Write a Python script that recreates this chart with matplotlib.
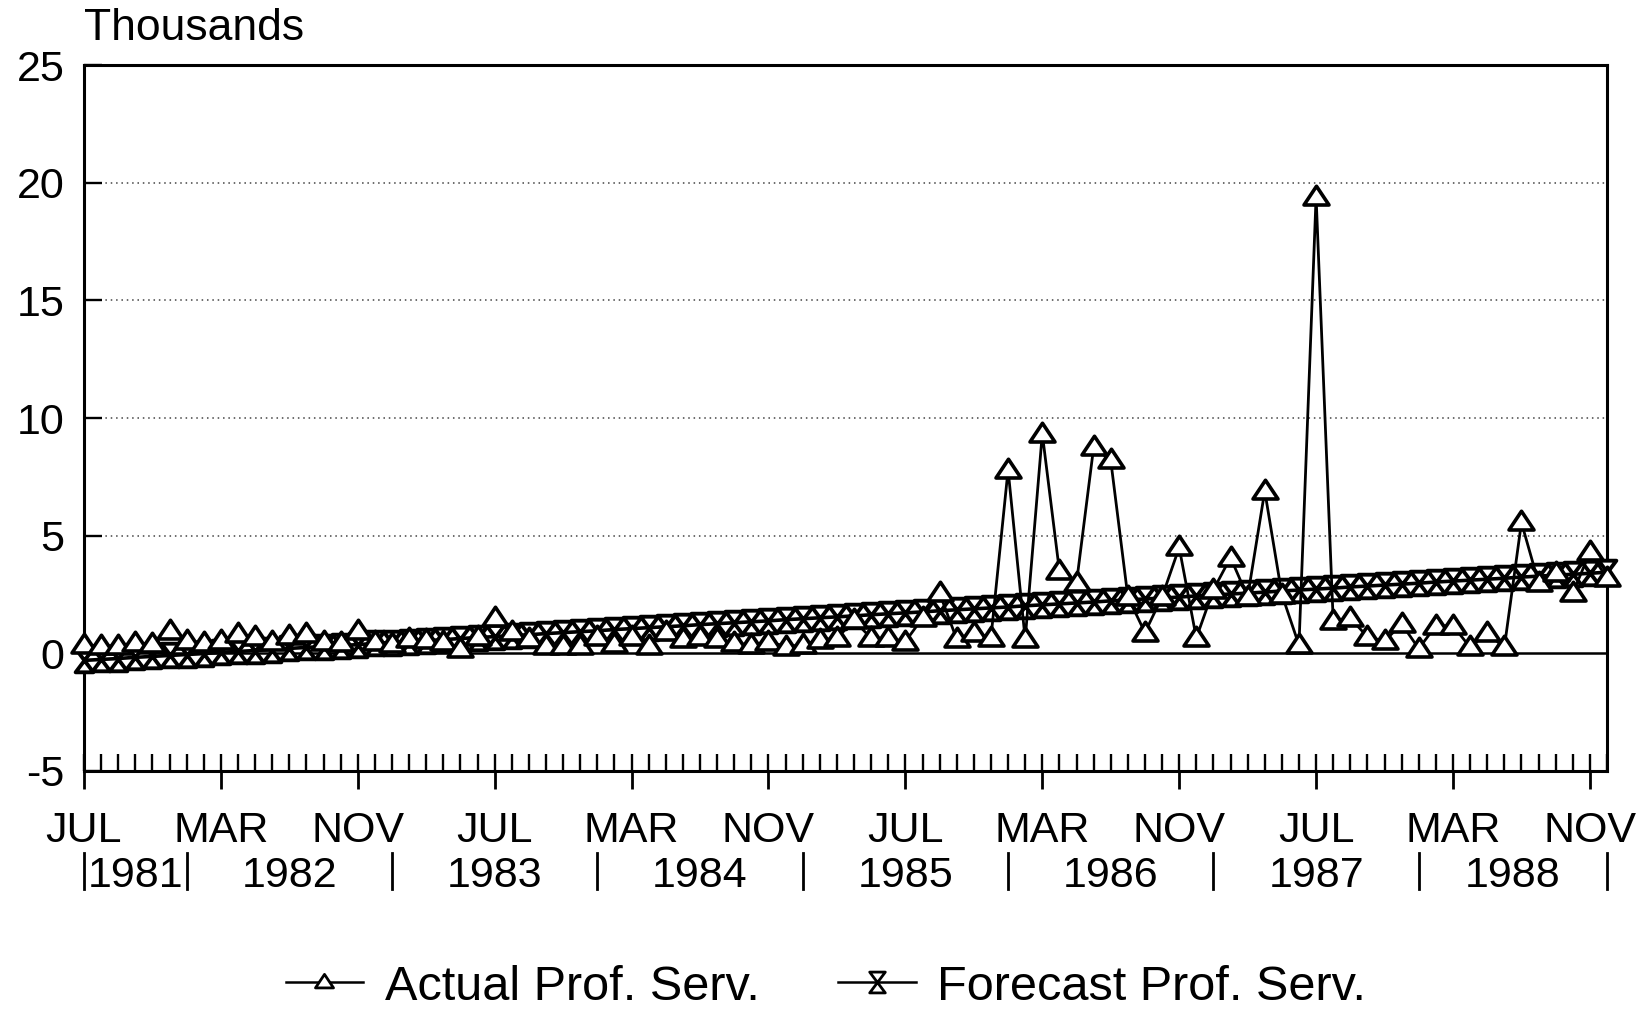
import matplotlib.pyplot as plt
from matplotlib.path import Path
from matplotlib.lines import Line2D
import numpy as np

plt.rcParams['font.family'] = ['Liberation Sans', 'DejaVu Sans']
plt.rcParams['axes.unicode_minus'] = False

# monthly series, Jul 1981 .. Dec 1988 (thousands)
actual = [0.35, 0.32, 0.32, 0.45, 0.39, 0.96, 0.53, 0.46, 0.53, 0.82,
          0.70, 0.50, 0.72, 0.82, 0.50, 0.45, 0.96, 0.50, 0.40, 0.60,
          0.55, 0.50, 0.20, 0.70, 1.52, 0.90, 0.60, 0.30, 0.30, 0.30,
          0.70, 0.40, 0.70, 0.30, 0.90, 0.60, 0.70, 0.60, 0.43, 0.36,
          0.50, 0.29, 0.36, 0.57, 0.64, 1.40, 0.64, 0.64, 0.50, 1.50,
          2.55, 0.60, 0.88, 0.67, 7.80, 0.60, 9.33, 3.50, 3.00, 8.75,
          8.20, 2.40, 0.88, 2.40, 4.50, 0.65, 2.70, 4.07, 2.40, 6.90,
          2.50, 0.35, 19.40, 1.38, 1.50, 0.70, 0.52, 1.25, 0.20, 1.17,
          1.17, 0.26, 0.86, 0.25, 5.56, 3.00, 3.40, 2.55, 4.30, 3.20]
forecast = [-0.30, -0.26, -0.22, -0.17, -0.13, -0.09, -0.05, -0.01, 0.04, 0.08,
            0.12, 0.16, 0.21, 0.25, 0.29, 0.33, 0.37, 0.42, 0.46, 0.50,
            0.54, 0.58, 0.63, 0.67, 0.71, 0.75, 0.79, 0.84, 0.88, 0.92,
            0.96, 1.01, 1.05, 1.09, 1.13, 1.17, 1.22, 1.26, 1.30, 1.34,
            1.38, 1.43, 1.47, 1.51, 1.55, 1.59, 1.64, 1.68, 1.72, 1.76,
            1.81, 1.85, 1.89, 1.93, 1.97, 2.02, 2.06, 2.10, 2.14, 2.18,
            2.23, 2.27, 2.31, 2.35, 2.39, 2.44, 2.48, 2.52, 2.56, 2.60,
            2.65, 2.69, 2.73, 2.77, 2.82, 2.86, 2.90, 2.94, 2.98, 3.03,
            3.07, 3.11, 3.15, 3.19, 3.24, 3.28, 3.32, 3.36, 3.40, 3.45]
month_labels = ['JUL', 'MAR', 'NOV', 'JUL', 'MAR', 'NOV',
                'JUL', 'MAR', 'NOV', 'JUL', 'MAR', 'NOV']
years = [1981, 1982, 1983, 1984, 1985, 1986, 1987, 1988]
y_ticks = [-5, 0, 5, 10, 15, 20, 25]

months = np.arange(len(actual))
last = len(actual) - 1

# marker shapes: flat triangle and hourglass
tri = Path([(-1, -0.6), (1, -0.6), (0, 0.9), (-1, -0.6)],
           [Path.MOVETO, Path.LINETO, Path.LINETO, Path.CLOSEPOLY])
hourglass = Path([(-0.75, 1), (0.75, 1), (-0.75, -1), (0.75, -1), (-0.75, 1)],
                 [Path.MOVETO, Path.LINETO, Path.LINETO, Path.LINETO, Path.CLOSEPOLY])

fig = plt.figure(figsize=(16.45, 10.10), dpi=100)
ax = fig.add_axes([84 / 1645, 1 - 771 / 1010, (1607 - 84) / 1645, (771 - 65) / 1010])

for v in y_ticks[2:-1]:
    ax.axhline(v, color='#444444', lw=1.1, ls=(0, (1, 2.5)), zorder=1)
ax.axhline(0, color='black', lw=1.8, zorder=2)

ax.plot(months, forecast, color='black', lw=2.6, marker=hourglass, ms=17,
        mfc='white', mec='black', mew=2.8, clip_on=False, zorder=3)
ax.plot(months, actual, color='black', lw=2.0, marker=tri, ms=18,
        mfc='white', mec='black', mew=2.6, clip_on=False, zorder=4)

ax.set_xlim(0, last)
ax.set_ylim(-5, 25)
ax.set_yticks(y_ticks)
ax.set_yticklabels([str(v) for v in y_ticks])

major = list(range(0, last, 8))
ax.set_xticks(major)
ax.set_xticks(months, minor=True)
ax.xaxis.remove_overlapping_locs = False
ax.tick_params(axis='x', which='major', direction='out', length=13, width=2,
               labelbottom=False)
ax.tick_params(axis='x', which='minor', direction='in', length=12, width=1.7)
ax.tick_params(axis='y', direction='in', length=13, width=1.7, labelsize=31, pad=14)
for s in ax.spines.values():
    s.set_linewidth(2.2)

xt = ax.get_xaxis_transform()
for i, name in zip(major, month_labels):
    ax.text(i, -0.100, name, transform=xt, ha='center', va='baseline',
            fontsize=31, clip_on=False)

# year captions between separator bars
edges = [0]
for y in years:
    edges.append(min((y - years[0]) * 12 + 6, last))
for k, y in enumerate(years):
    ax.text((edges[k] + edges[k + 1]) / 2, -0.1636, str(y), transform=xt,
            ha='center', va='baseline', fontsize=31, clip_on=False)
for e in edges:
    ax.plot([e, e], [-0.116, -0.167], transform=xt, color='black', lw=2,
            clip_on=False)

fig.text(84 / 1645, 1 - 40 / 1010, 'Thousands', ha='left', va='baseline', fontsize=32)

h1 = Line2D([], [], color='black', lw=1.8, marker=tri, ms=13,
            mfc='white', mec='black', mew=2.0)
h2 = Line2D([], [], color='black', lw=1.8, marker=hourglass, ms=15,
            mfc='white', mec='black', mew=2.0)
fig.legend([h1, h2], ['Actual Prof. Serv.', 'Forecast Prof. Serv.'],
           loc='center', bbox_to_anchor=(826 / 1645, 1 - 987 / 1010), ncol=2,
           frameon=False, fontsize=35, handlelength=1.6, handletextpad=0.45,
           columnspacing=1.6)

fig.savefig('out.png', dpi=100)
